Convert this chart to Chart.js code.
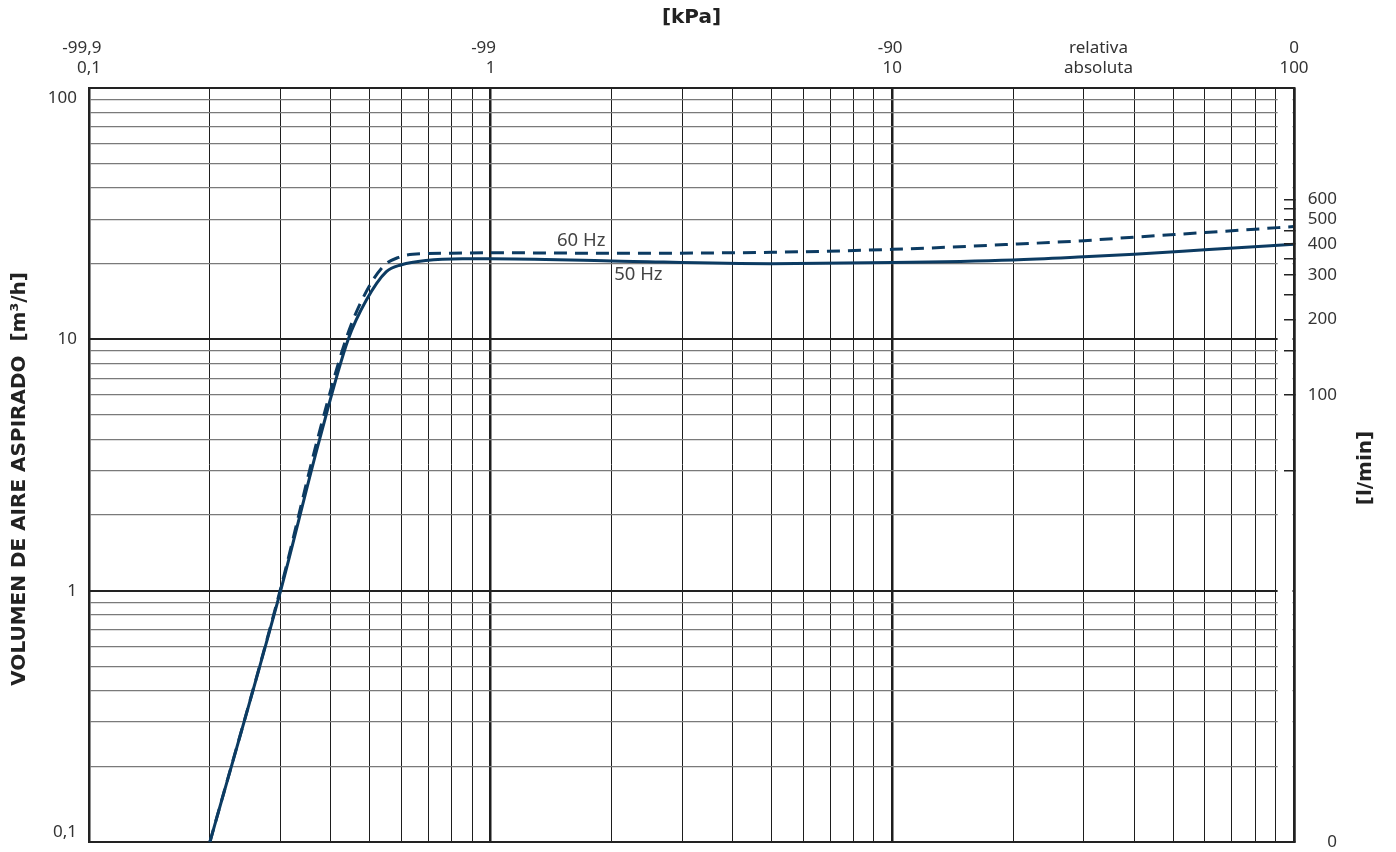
<!DOCTYPE html>
<html>
<head>
<meta charset="utf-8">
<script src="https://cdn.jsdelivr.net/npm/chart.js@4.4.1/dist/chart.umd.min.js"></script>
<style>
  html, body { margin: 0; padding: 0; background: #fff; }
  #wrap { width: 1396px; height: 852px; }
</style>
</head>
<body>
<div id="wrap"><canvas id="chart"></canvas></div>
<script>
// absolute pressure [kPa] -> suction volume [m3/h]
var pres50 = [0.2, 0.3, 0.375, 0.442, 0.49, 0.55, 0.6, 0.69, 0.85, 1, 2, 5, 10, 20, 30, 40, 60, 100];
var flow50 = [0.1, 1, 4, 10, 14.3, 18.6, 19.8, 20.6, 20.9, 20.9, 20.5, 20.0, 20.2, 20.7, 21.3, 21.8, 22.7, 23.9];
var pres60 = [0.2, 0.3, 0.372, 0.438, 0.485, 0.54, 0.59, 0.64, 0.8, 1, 2, 5, 10, 20, 30, 40, 60, 100];
var flow60 = [0.1, 1.02, 4.1, 10.2, 15, 19.5, 21.2, 21.8, 22.0, 22.1, 22.0, 22.2, 22.8, 23.9, 24.7, 25.5, 26.6, 28.1];

// top axis: absolute kPa and the matching relative kPa
var absTicks = [0.1, 1, 10, 32.6, 100];
var absLabels = ['0,1', '1', '10', 'absoluta', '100'];
var relLabels = ['-99,9\u2007 ', '-99\u2007 ', '-90 ', 'relativa', '0'];

// left axis
var flowTicks = [0.1, 1, 10, 100];
var flowLabels = ['0,1', '1', '10', '100'];

// right axis, l/min
var lminTicks = [50, 100, 150, 200, 250, 300, 350, 400, 450, 500, 550, 600];
var lminLabels = ['', '100', '', '200', '', '300', '', '400', '', '500', '', '600'];

var decades = [0.1, 1, 10];
var steps = [1, 2, 3, 4, 5, 6, 7, 8, 9];

var navy = '#0c3b62';
var font = '"Noto Sans", "Open Sans", sans-serif';
var boldFont = '"DejaVu Sans", "Noto Sans", sans-serif';

function logGrid() {
    var v = [];
    decades.forEach(function (d) {
        steps.forEach(function (m) { v.push(+(d * m).toPrecision(3)); });
    });
    v.push(100);
    return v;
}
function isDecade(v) {
    var l = Math.log10(v);
    return Math.abs(l - Math.round(l)) < 1e-6;
}
function pts(xs, ys) {
    return xs.map(function (x, i) { return {x: x, y: ys[i]}; });
}

var curveNotes = {
    id: 'curveNotes',
    beforeDatasetsDraw: function (chart) {
        // horizontal grid stops short of the right frame
        var ctx = chart.ctx, a = chart.chartArea;
        var x0 = chart.scales.x.getPixelForValue(90) + 2;
        ctx.save();
        ctx.fillStyle = '#fff';
        ctx.fillRect(x0, a.top + 2, a.right - 1.5 - x0, a.bottom - a.top - 4);
        ctx.restore();
    },
    afterDraw: function (chart) {
        var ctx = chart.ctx, a = chart.chartArea;
        var sx = chart.scales.x, sy = chart.scales.y;
        ctx.save();
        ctx.font = '18.5px ' + font;
        ctx.fillStyle = '#444';
        ctx.textBaseline = 'middle';
        ctx.textAlign = 'right';
        ctx.fillText('60 Hz', sx.getPixelForValue(1.93), sy.getPixelForValue(24.7));
        ctx.textAlign = 'left';
        ctx.fillText('50 Hz', sx.getPixelForValue(2.03), sy.getPixelForValue(18.0));

        ctx.translate(chart.width - 30, (a.top + a.bottom) / 2 + 3);
        ctx.rotate(-Math.PI / 2);
        ctx.font = 'bold 20px ' + boldFont;
        ctx.fillStyle = '#222';
        ctx.textAlign = 'center';
        ctx.fillText('[l/min]', 0, 0);
        ctx.restore();
    }
};

window.onload = function () {
    var ctx = document.getElementById('chart').getContext('2d');
    window.theChart = new Chart(ctx, {
        type: 'line',
        data: {
            datasets: [{
                label: '50 Hz',
                data: pts(pres50, flow50),
                borderColor: navy,
                borderWidth: 3,
                pointRadius: 0,
                cubicInterpolationMode: 'monotone',
                xAxisID: 'x',
                yAxisID: 'y'
            }, {
                label: '60 Hz',
                data: pts(pres60, flow60),
                borderColor: navy,
                borderWidth: 3,
                borderDash: [13, 8],
                pointRadius: 0,
                cubicInterpolationMode: 'monotone',
                xAxisID: 'x',
                yAxisID: 'y'
            }]
        },
        options: {
            responsive: true,
            maintainAspectRatio: false,
            animation: false,
            layout: { padding: { bottom: 10, right: 59 } },
            plugins: { legend: { display: false }, tooltip: { enabled: false } },
            scales: {
                x: {
                    type: 'logarithmic',
                    position: 'bottom',
                    min: 0.1,
                    max: 100,
                    afterBuildTicks: function (s) { s.ticks = logGrid().map(function (v) { return {value: v}; }); },
                    ticks: { display: false, autoSkip: false },
                    grid: {
                        drawTicks: false,
                        color: '#1e1e1e',
                        lineWidth: function (c) { return isDecade(c.tick.value) ? 2.5 : 1; }
                    },
                    border: { color: '#222', width: 2 }
                },
                x2: {
                    type: 'logarithmic',
                    position: 'top',
                    min: 0.1,
                    max: 100,
                    afterBuildTicks: function (s) { s.ticks = absTicks.map(function (v) { return {value: v}; }); },
                    ticks: {
                        autoSkip: false,
                        maxRotation: 0,
                        padding: 10,
                        color: '#333',
                        font: { family: font, size: 17, lineHeight: 1.18 },
                        callback: function (v, i) { return [relLabels[i], absLabels[i]]; }
                    },
                    grid: { display: false, drawTicks: false },
                    border: { display: true, color: '#222', width: 2 },
                    title: {
                        display: true,
                        text: '[kPa]',
                        color: '#222',
                        font: { family: boldFont, size: 20, weight: 'bold' },
                        padding: { top: 6, bottom: 0 }
                    },
                    afterFit: function (s) { s.height = 88; }
                },
                y: {
                    type: 'logarithmic',
                    position: 'left',
                    min: 0.1,
                    max: 100,
                    afterBuildTicks: function (s) { s.ticks = logGrid().map(function (v) { return {value: v}; }); },
                    ticks: {
                        autoSkip: false,
                        padding: 12,
                        color: '#333',
                        font: { family: font, size: 17 },
                        callback: function (v) {
                            var i = flowTicks.indexOf(v);
                            if (i < 0) return '';
                            if (i === 0) return [flowLabels[i], ''];
                            if (i === flowTicks.length - 1) return ['', flowLabels[i]];
                            return flowLabels[i];
                        }
                    },
                    grid: {
                        drawTicks: false,
                        color: function (c) { return isDecade(c.tick.value) ? '#222' : '#7a7a7a'; },
                        lineWidth: function (c) { return isDecade(c.tick.value) ? 2 : 1.3; }
                    },
                    border: { color: '#222', width: 2 },
                    title: {
                        display: true,
                        text: 'VOLUMEN DE AIRE ASPIRADO  [m\u00b3/h]    ',
                        color: '#222',
                        font: { family: boldFont, size: 20, weight: 'bold' },
                        padding: { top: 8, bottom: 0 }
                    },
                    afterFit: function (s) { s.width = 89; s.paddingTop = 0; s.paddingBottom = 0; }
                },
                y2: {
                    type: 'logarithmic',
                    position: 'right',
                    min: 100 / 60,
                    max: 100000 / 60,
                    afterBuildTicks: function (s) {
                        s.ticks = [{value: 100 / 60}].concat(lminTicks.map(function (v) { return {value: v}; }));
                    },
                    ticks: {
                        autoSkip: false,
                        crossAlign: 'far',
                        padding: 10,
                        color: '#333',
                        font: { family: font, size: 17 },
                        callback: function (v, i) { return i === 0 ? '0' : lminLabels[i - 1]; }
                    },
                    grid: {
                        drawOnChartArea: false,
                        drawTicks: true,
                        tickLength: -10,
                        color: '#222',
                        lineWidth: 1.5,
                        z: 1
                    },
                    border: { color: '#222', width: 2.5, z: 1 },
                    afterFit: function (s) { s.width = 43; s.paddingTop = 0; s.paddingBottom = 0; }
                }
            }
        },
        plugins: [curveNotes]
    });
};
</script>
</body>
</html>
